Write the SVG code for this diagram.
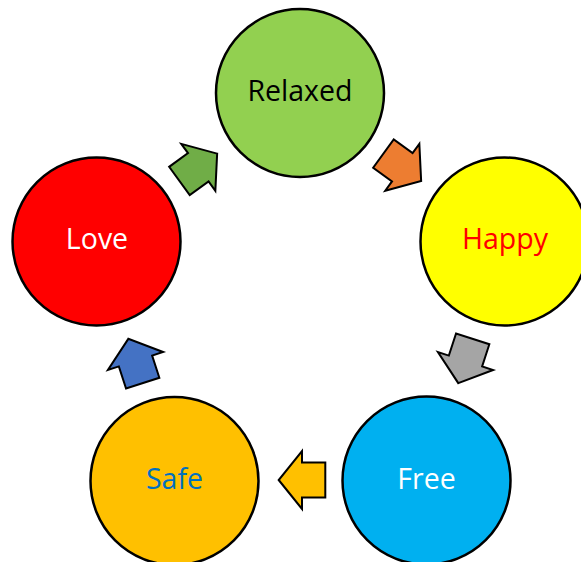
<svg xmlns="http://www.w3.org/2000/svg" width="581" height="562" viewBox="0 0 581 562">
<style>
.node circle{stroke:#000;stroke-width:2.5}
.node text{font-family:"Open Sans","Noto Sans",sans-serif;font-size:28.5px;text-anchor:middle}
.arr{stroke:#000;stroke-width:2;stroke-linejoin:miter}
</style>
<defs>
<path id="blk" d="M23.3,0 L0,-29 L0,-17.5 L-23.3,-17.5 L-23.3,17.5 L0,17.5 L0,29 Z"/>
</defs>
<rect width="581" height="562" fill="#fff"/>
<g id="connectors">
<use href="#blk" class="arr" fill="#ED7D31" transform="translate(402.3,167.3) rotate(36)"/>
<use href="#blk" class="arr" fill="#A5A5A5" transform="translate(465.5,361) rotate(108)"/>
<use href="#blk" class="arr" fill="#FFC000" transform="translate(302,480) rotate(180)"/>
<use href="#blk" class="arr" fill="#4472C4" transform="translate(135.5,361) rotate(252)"/>
<use href="#blk" class="arr" fill="#70AD47" transform="translate(198.3,167.3) rotate(-36)"/>
</g>
<g id="relaxed" class="node"><circle cx="300" cy="93" r="84" fill="#92D050"/><text x="300" y="100.7" fill="#000">Relaxed</text></g>
<g id="happy" class="node"><circle cx="504.5" cy="241.5" r="84" fill="#FFFF00"/><text x="505" y="248.7" fill="#FF0000">Happy</text></g>
<g id="free" class="node"><circle cx="426.5" cy="480.5" r="84" fill="#00B0F0"/><text x="426.5" y="488.7" fill="#fff">Free</text></g>
<g id="safe" class="node"><circle cx="174.5" cy="481" r="84" fill="#FFC000"/><text x="174.5" y="488.7" fill="#0070C0">Safe</text></g>
<g id="love" class="node"><circle cx="96.5" cy="241.5" r="84" fill="#FF0000"/><text x="97" y="248.7" fill="#fff">Love</text></g>
</svg>
